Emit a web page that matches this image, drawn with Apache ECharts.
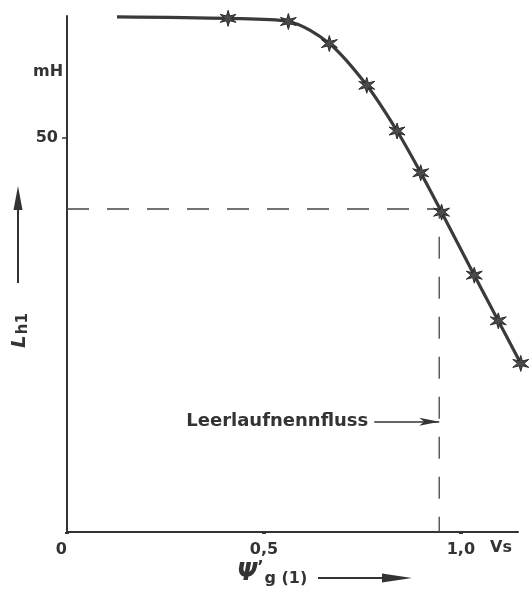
<!DOCTYPE html>
<html>
<head>
<meta charset="utf-8">
<style>
  html, body { margin: 0; padding: 0; background: #fff; }
  #chart { width: 529px; height: 592px; }
</style>
<script src="https://cdn.jsdelivr.net/npm/echarts@6/dist/echarts.min.js"></script>
</head>
<body>
<div id="chart"></div>
<script>
// Messpunkte: Fluss (Vs) und Hauptinduktivität (mH)
const flux = [0.127, 0.409, 0.562, 0.666, 0.761, 0.838, 0.898, 0.951, 1.034, 1.095, 1.152]
const inductance = [65.4, 65.2, 64.8, 62.0, 56.7, 50.9, 45.6, 40.6, 32.6, 26.8, 21.4]
// Leerlaufnennfluss und zugehörige Induktivität (gestrichelte Hilfslinien)
const nominalFlux = 0.945
const nominalL = 41
// Achsenbeschriftungen
const xTicks = [0, 0.5, 1.0]
const yTicks = [50]

const ink = '#333'
const font = 'DejaVu Sans'

// sechsstrahliger Stern als Markierung
function starPath() {
  const pts = []
  for (let i = 0; i < 12; i++) {
    const a = (i * 30 - 90) * Math.PI / 180
    const r = i % 2 === 0 ? 10 : 3.5
    pts.push((10 + r * Math.cos(a)).toFixed(2) + ' ' + (10 + r * Math.sin(a)).toFixed(2))
  }
  return 'path://M' + pts.join(' L') + ' Z'
}

const chart = echarts.init(document.getElementById('chart'), null, { renderer: 'canvas' })

const curveData = flux.map((x, i) => {
  const item = { value: [x, inductance[i]] }
  if (i === 0) item.symbol = 'none'
  return item
})

chart.setOption({
  animation: false,
  grid: { left: 67, right: 11, top: 16, bottom: 60, containLabel: false },
  xAxis: {
    type: 'value',
    min: 0,
    max: 1.145,
    interval: 0.5,
    splitLine: { show: false },
    axisLine: { lineStyle: { color: ink, width: 2 } },
    axisTick: { show: true, length: 2, lineStyle: { color: ink, width: 4 } },
    axisLabel: {
      showMaxLabel: false,
      color: ink,
      fontFamily: font,
      fontWeight: 'bold',
      fontSize: 16,
      margin: 10,
      formatter: v => xTicks.includes(v) ? (v === 0 ? '0  ' : v.toFixed(1).replace('.', ',')) : ''
    }
  },
  yAxis: {
    type: 'value',
    min: 0,
    max: 65.5,
    interval: 50,
    splitLine: { show: false },
    axisLine: { lineStyle: { color: ink, width: 2 } },
    axisTick: { show: true, length: 5, lineStyle: { color: ink, width: 1.5 } },
    axisLabel: {
      showMinLabel: false,
      showMaxLabel: false,
      color: ink,
      fontFamily: font,
      fontWeight: 'bold',
      fontSize: 16,
      margin: 9,
      formatter: v => yTicks.includes(v) ? String(v) : ''
    }
  },
  series: [
    {
      type: 'line',
      data: [[0, nominalL], [nominalFlux, nominalL], [nominalFlux, 0]],
      symbol: 'none',
      clip: false,
      lineStyle: { color: '#444', width: 1.3, type: [22, 18] },
      markLine: {
        silent: true,
        symbol: ['none', 'arrow'],
        symbolSize: [6, 20],
        lineStyle: { color: ink, width: 1.5, type: 'solid' },
        label: {
          show: true,
          position: 'start',
          distance: 6,
          formatter: 'Leerlaufnennfluss',
          color: ink,
          fontFamily: font,
          fontWeight: 'bold',
          fontSize: 18
        },
        data: [[{ coord: [0.78, 14] }, { coord: [nominalFlux, 14] }]]
      }
    },
    {
      type: 'line',
      data: curveData,
      smooth: 0.3,
      clip: false,
      symbol: starPath(),
      symbolSize: 16,
      itemStyle: { color: '#4a4a4a', borderColor: '#2a2a2a', borderWidth: 1 },
      lineStyle: { color: '#3a3a3a', width: 3.2 }
    }
  ],
  graphic: [
    { type: 'text', left: 33, top: 64, style: { text: 'mH', fill: ink, font: 'bold 16px ' + font } },
    { type: 'text', left: 490, top: 540, style: { text: 'Vs', fill: ink, font: 'bold 16px ' + font } },
    // Achsenname y: L_h1, gedreht
    {
      type: 'text', x: 9, y: 348, rotation: Math.PI / 2,
      style: {
        text: '{a|L}{b|h1}',
        rich: {
          a: { fontFamily: font, fontSize: 20, fontStyle: 'italic', fontWeight: 'bold', fill: ink },
          b: { fontFamily: font, fontSize: 15, fontWeight: 'bold', fill: ink, padding: [7, 0, 0, 1] }
        }
      }
    },
    // Pfeil nach oben
    { type: 'line', shape: { x1: 18, y1: 283, x2: 18, y2: 205 }, style: { stroke: ink, lineWidth: 2 } },
    { type: 'polygon', shape: { points: [[18, 186], [22.5, 210], [13.5, 210]] }, style: { fill: ink } },
    // Achsenname x: Psi'g(1)
    {
      type: 'text', left: 237, top: 560,
      style: {
        text: '{p|Ψ}{q|\u2019}{g|g (1)}',
        rich: {
          p: { fontFamily: font, fontSize: 24, fontStyle: 'italic', fontWeight: 'bold', fill: ink },
          q: { fontFamily: font, fontSize: 16, fontWeight: 'bold', fill: ink, padding: [0, 0, 12, 0] },
          g: { fontFamily: font, fontSize: 16, fontWeight: 'bold', fill: ink, padding: [10, 0, 0, 1] }
        }
      }
    },
    // Pfeil nach rechts
    { type: 'line', shape: { x1: 318, y1: 578, x2: 388, y2: 578 }, style: { stroke: ink, lineWidth: 2 } },
    { type: 'polygon', shape: { points: [[412, 578], [382, 573.5], [382, 582.5]] }, style: { fill: ink } }
  ]
})
</script>
</body>
</html>
